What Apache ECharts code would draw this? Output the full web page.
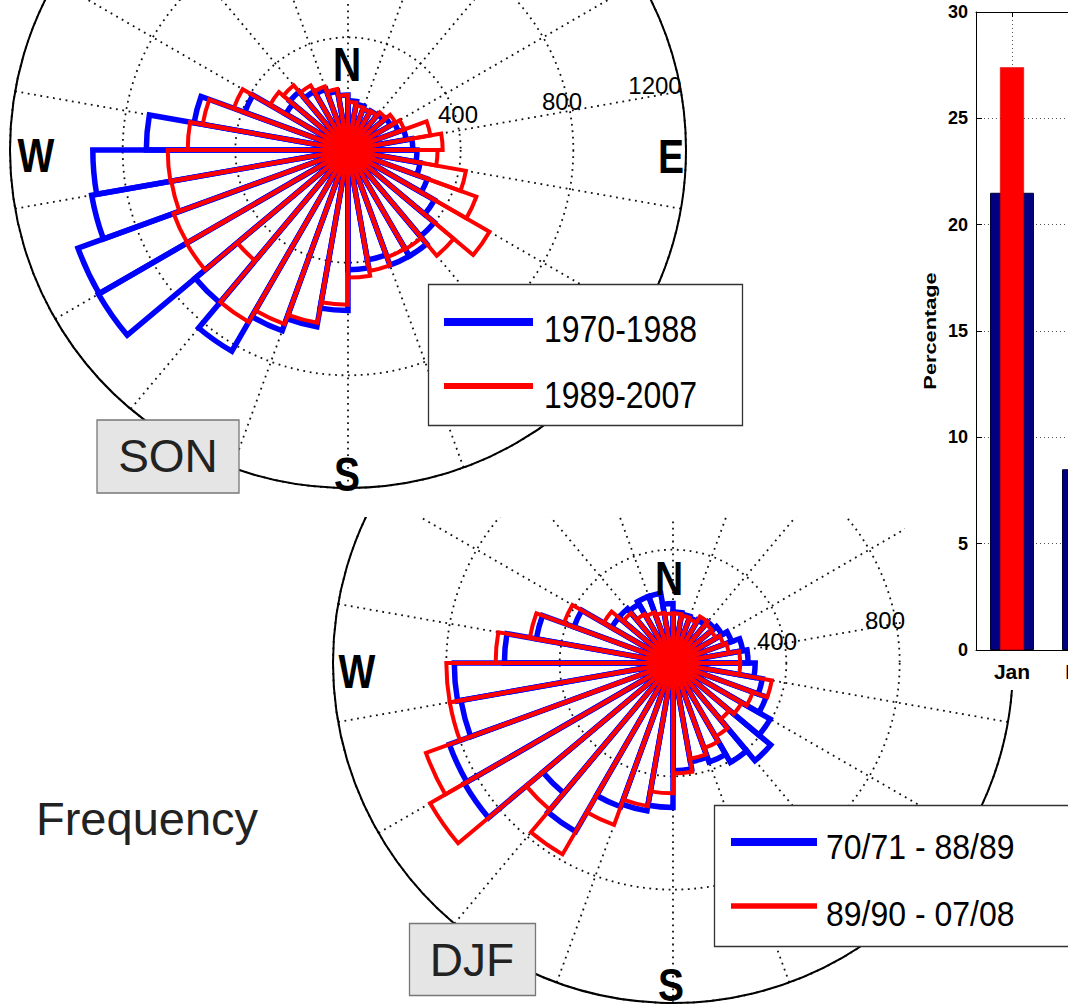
<!DOCTYPE html>
<html>
<head>
<meta charset="utf-8">
<script src="https://cdn.jsdelivr.net/npm/echarts@6/dist/echarts.min.js"></script>
<style>
html,body{margin:0;padding:0;background:#fff;width:1068px;height:1006px;overflow:hidden;position:relative}
#son{position:absolute;left:0;top:0;width:905px;height:512px;z-index:2}
#djf{position:absolute;left:0;top:517px;width:1068px;height:489px;z-index:1}
#barwrap{position:absolute;left:905px;top:0;width:163px;height:690px;z-index:3;background:#fff;overflow:hidden}
#bar{position:absolute;left:0;top:0;width:260px;height:690px}
</style>
</head>
<body>
<div id="son"></div>
<div id="djf"></div>
<div id="barwrap"><div id="bar"></div></div>
<script>
// ---------- DATA ----------
// 10-degree direction bins (start of bin, clockwise from North)
const directionBins = ['0','10','20','30','40','50','60','70','80','90','100','110',
  '120','130','140','150','160','170','180','190','200','210','220','230',
  '240','250','260','270','280','290','300','310','320','330','340','350'];

// SON frequency roses
const sonBlue = [175,165,155,160,165,175,190,210,230,245,260,300,
                 355,400,435,435,396,425,570,637,683,825,708,1023,
                 1020,924,906,716,555,390,255,270,240,230,212,195];
const sonRed  = [170,160,155,160,175,195,212,297,336,318,425,485,
                 580,490,407,405,436,453,549,623,658,705,513,662,
                 659,637,640,569,524,432,320,300,265,240,220,195];

// DJF frequency roses
const djfBlue = [180,175,170,175,190,200,220,250,265,290,320,350,
                 396,450,405,372,354,380,510,530,540,687,600,850,
                 840,760,772,595,490,372,250,250,240,250,250,210];
const djfRed  = [175,170,165,190,180,175,190,200,237,237,354,300,
                 280,260,300,320,343,390,460,513,608,780,676,990,
                 928,800,800,626,513,410,283,230,200,190,180,175];

const radiusMax = 1200;
const radiusStep = 400;
const sonRingLabels = ['400','800','1200'];
const djfRingLabels = ['400','800'];
const compassLabels = ['N','E','S','W'];
const sonLegend = ['1970-1988','1989-2007'];
const djfLegend = ['70/71 - 88/89','89/90 - 07/08'];
const seasonLabels = ['SON','DJF'];
const sideTitle = 'Frequency';

// Monthly percentage bar chart (partially visible)
const months = ['Jan','Feb'];
const monthBlue = [21.5, 8.5];
const monthRed = [27.4, null];
const yTicksMax = 30;
const yTickStep = 5;
const yAxisTitle = 'Percentage';

// ---------- STYLE ----------
const FONT = '"Liberation Sans", Arial, Helvetica, sans-serif';
const BLUE = '#0000ff';
const RED = '#ff0000';
const dotted = {color:'#111', width:1.8, type:[1.8,4.6]};

function roseOption(center, radius, blue, red, graphics){
  return {
    animation:false,
    polar:{center:center, radius:radius},
    angleAxis:{
      type:'category', data:directionBins, startAngle:90, clockwise:true, boundaryGap:true,
      axisLine:{show:true, lineStyle:{color:'#000', width:2}},
      axisTick:{show:false}, axisLabel:{show:false},
      splitLine:{show:true, interval:2, lineStyle:dotted}
    },
    radiusAxis:{
      type:'value', min:0, max:radiusMax, interval:radiusStep,
      axisLine:{show:false}, axisTick:{show:false}, axisLabel:{show:false},
      splitLine:{show:true, lineStyle:dotted}
    },
    series:[
      {type:'bar', coordinateSystem:'polar', data:blue, barCategoryGap:'0%', barGap:'-100%',
       itemStyle:{color:'rgba(0,0,0,0)', borderColor:BLUE, borderWidth:5.5}, z:2, silent:true},
      {type:'bar', coordinateSystem:'polar', data:red, barCategoryGap:'0%', barGap:'-100%',
       itemStyle:{color:'rgba(0,0,0,0)', borderColor:RED, borderWidth:4}, z:3, silent:true}
    ],
    graphic:graphics
  };
}

function txt(text, x, y, size, opts){
  opts = opts || {};
  return {
    type:'text', x:x, y:y, z:100, scaleX:opts.sx||1, scaleY:opts.sy||1, rotation:opts.rot||0,
    style:{text:text, x:0, y:0, fill:opts.color||'#000',
      font:(opts.bold?'bold ':'')+size+'px '+FONT,
      align:opts.align||'center', verticalAlign:'middle'}
  };
}
function rect(x,y,w,h,fill,stroke,lw){
  return {type:'rect', z:90, shape:{x:x,y:y,width:w,height:h},
    style:{fill:fill, stroke:stroke, lineWidth:lw}};
}
function hline(x1,x2,y,color,w){
  return {type:'line', z:95, shape:{x1:x1,y1:y,x2:x2,y2:y}, style:{stroke:color, lineWidth:w}};
}

// ---------- SON ----------
const sonG = [
  txt(compassLabels[0], 347, 65, 39, {bold:true, sy:1.22}),
  txt(compassLabels[1], 671, 157, 39, {bold:true, sy:1.22}),
  txt(compassLabels[2], 347, 475, 39, {bold:true, sy:1.22}),
  txt(compassLabels[3], 36, 156, 39, {bold:true, sy:1.22}),
  txt(sonRingLabels[0], 458, 114, 24),
  txt(sonRingLabels[1], 562, 101, 24),
  txt(sonRingLabels[2], 655, 85, 24),
  rect(428.5, 284.5, 314, 141, '#fff', '#333', 1.3),
  hline(444, 533, 322, BLUE, 8),
  hline(444, 533, 386, RED, 6),
  txt(sonLegend[0], 544, 328.5, 32, {align:'left', sy:1.17}),
  txt(sonLegend[1], 544, 395, 32, {align:'left', sy:1.17}),
  rect(97, 420, 142, 73, '#e5e5e5', '#777', 1.3),
  txt(seasonLabels[0], 168, 456, 46, {color:'#222'})
];
const son = echarts.init(document.getElementById('son'), null, {renderer:'svg'});
son.setOption(roseOption([348,150], 338, sonBlue, sonRed, sonG));

// ---------- DJF ----------
const T = 517;
const djfG = [
  txt(compassLabels[0], 669, 579-T, 39, {bold:true, sy:1.22}),
  txt(compassLabels[2], 671, 985-T, 39, {bold:true, sy:1.18}),
  txt(compassLabels[3], 357, 672-T, 39, {bold:true, sy:1.22}),
  txt(djfRingLabels[0], 777, 641-T, 24),
  txt(djfRingLabels[1], 885, 620-T, 24),
  rect(714.5, 805.5-T, 400, 141, '#fff', '#333', 1.3),
  hline(731, 817, 842-T, BLUE, 8),
  hline(731, 817, 906-T, RED, 5.5),
  txt(djfLegend[0], 826, 847-T, 32, {align:'left', sy:1.08}),
  txt(djfLegend[1], 826, 914-T, 32, {align:'left', sy:1.08}),
  rect(409.5, 923.5-T, 126, 72, '#e5e5e5', '#777', 1.3),
  txt(seasonLabels[1], 472, 960-T, 46, {color:'#222'}),
  txt(sideTitle, 36, 818-T, 47, {align:'left', color:'#222'})
];
const djf = echarts.init(document.getElementById('djf'), null, {renderer:'svg'});
djf.setOption(roseOption([673,146], 340, djfBlue, djfRed, djfG));

// ---------- BAR ----------
const bar = echarts.init(document.getElementById('bar'), null, {renderer:'svg'});
const gridDot = {color:'#555', width:1, type:[1,3]};
bar.setOption({
  animation:false,
  grid:{left:71, top:12, width:144, height:638},
  xAxis:[
    {type:'category', data:months, position:'bottom',
     axisLine:{show:true, lineStyle:{color:'#000', width:1}},
     axisTick:{show:true, inside:true, alignWithLabel:true, length:5, lineStyle:{color:'#000'}},
     axisLabel:{color:'#000', fontWeight:'bold', fontSize:21, fontFamily:FONT, margin:11},
     splitLine:{show:true, alignWithLabel:true, lineStyle:gridDot}},
    {type:'category', data:months, position:'top',
     axisLine:{show:true, lineStyle:{color:'#000', width:1}},
     axisTick:{show:true, inside:true, alignWithLabel:true, length:5, lineStyle:{color:'#000'}},
     axisLabel:{show:false}, splitLine:{show:false}}
  ],
  yAxis:{type:'value', min:0, max:yTicksMax, interval:yTickStep,
     axisLine:{show:true, lineStyle:{color:'#000', width:1}},
     axisTick:{show:true, inside:true, length:6, lineStyle:{color:'#000'}},
     axisLabel:{color:'#000', fontWeight:'bold', fontSize:18, fontFamily:FONT, margin:8},
     splitLine:{show:true, lineStyle:gridDot}},
  series:[
    {type:'bar', xAxisIndex:0, data:monthBlue, barWidth:44,
     itemStyle:{color:'#000080', borderColor:'#000033', borderWidth:1}, silent:true, z:2},
    {type:'bar', xAxisIndex:1, data:monthRed, barWidth:24,
     itemStyle:{color:'#ff0000', borderColor:'#cc0000', borderWidth:0.5}, silent:true, z:3}
  ],
  graphic:[
    txt(yAxisTitle, 25, 331, 17, {bold:true, rot:Math.PI/2, sx:1.28})
  ]
});
</script>
</body>
</html>
